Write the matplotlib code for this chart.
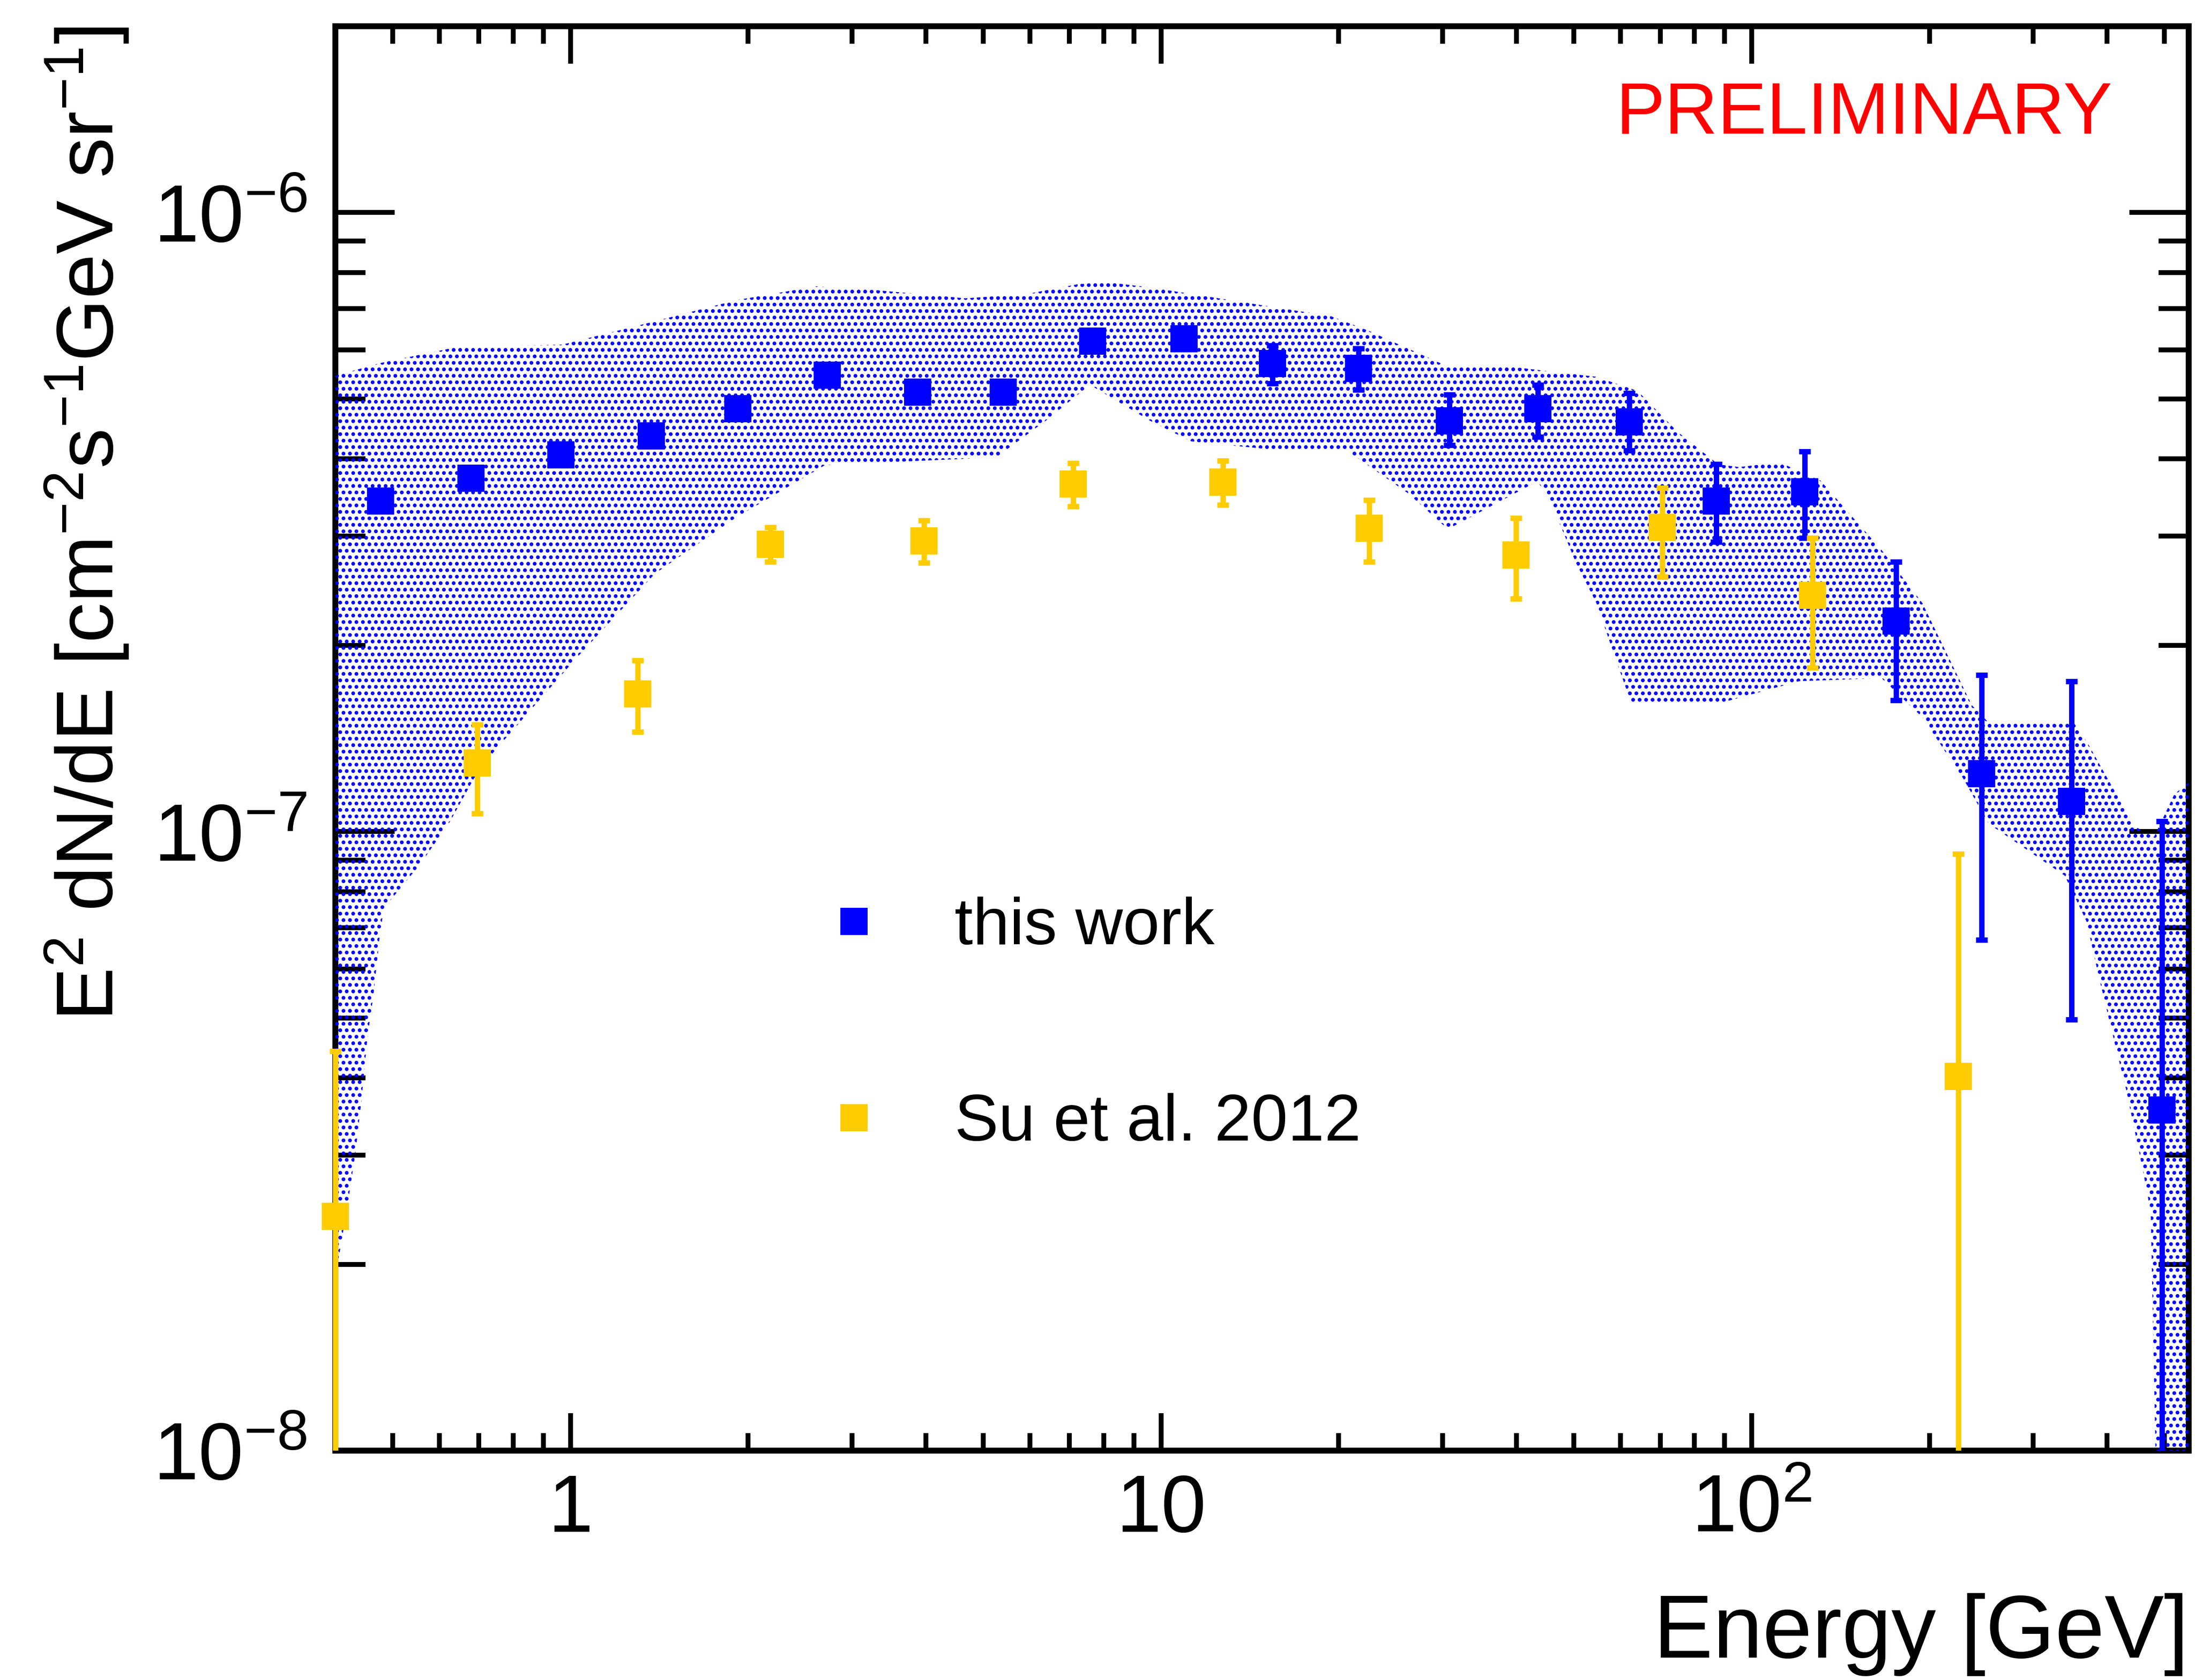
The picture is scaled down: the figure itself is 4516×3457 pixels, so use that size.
import matplotlib
matplotlib.use('Agg')
import matplotlib.pyplot as plt
import matplotlib.patches as mpatches
from matplotlib.lines import Line2D
from matplotlib.ticker import LogLocator, FuncFormatter, NullFormatter
import numpy as np

plt.rcParams['font.family'] = ['Liberation Sans', 'DejaVu Sans']
plt.rcParams['mathtext.fontset'] = 'custom'
plt.rcParams['mathtext.rm'] = 'Liberation Sans'
plt.rcParams['mathtext.it'] = 'Liberation Sans:italic'
plt.rcParams['hatch.linewidth'] = 4.5

DPI = 80

# this work: E^2 dN/dE with lower / upper ends of the error bars
energy = [0.477, 0.679, 0.964, 1.37, 1.92, 2.72, 3.87, 5.41, 7.66, 10.93, 15.45,
          21.6, 30.8, 43.5, 62.1, 87.2, 123.0, 175.5, 245.0, 348.0, 495.0]
flux = [3.42e-7, 3.72e-7, 4.06e-7, 4.36e-7, 4.82e-7, 5.46e-7, 5.13e-7, 5.13e-7,
        6.20e-7, 6.26e-7, 5.70e-7, 5.60e-7, 4.61e-7, 4.82e-7, 4.59e-7, 3.42e-7,
        3.54e-7, 2.19e-7, 1.24e-7, 1.12e-7, 3.55e-8]
flux_lo = [3.34e-7, 3.63e-7, 3.96e-7, 4.24e-7, 4.69e-7, 5.31e-7, 4.98e-7, 4.97e-7,
           6.02e-7, 6.06e-7, 5.30e-7, 5.17e-7, 4.21e-7, 4.34e-7, 4.13e-7, 2.94e-7,
           2.98e-7, 1.63e-7, 6.68e-8, 4.97e-8, 5e-9]
flux_hi = [3.50e-7, 3.81e-7, 4.16e-7, 4.48e-7, 4.95e-7, 5.61e-7, 5.28e-7, 5.29e-7,
           6.38e-7, 6.46e-7, 6.10e-7, 6.03e-7, 5.08e-7, 5.27e-7, 5.11e-7, 3.92e-7,
           4.11e-7, 2.73e-7, 1.79e-7, 1.75e-7, 1.04e-7]

# Su et al. 2012
su_energy = [0.4, 0.696, 1.30, 2.18, 3.97, 7.10, 12.74, 22.5, 39.9, 70.6, 126.7, 224.0]
su_flux = [2.39e-8, 1.29e-7, 1.67e-7, 2.91e-7, 2.95e-7, 3.64e-7, 3.67e-7, 3.09e-7,
           2.80e-7, 3.10e-7, 2.41e-7, 4.02e-8]
su_lo = [5e-9, 1.07e-7, 1.45e-7, 2.73e-7, 2.72e-7, 3.35e-7, 3.37e-7, 2.73e-7,
         2.38e-7, 2.58e-7, 1.84e-7, 5e-9]
su_hi = [4.42e-8, 1.49e-7, 1.89e-7, 3.10e-7, 3.18e-7, 3.94e-7, 3.97e-7, 3.43e-7,
         3.21e-7, 3.59e-7, 2.98e-7, 9.2e-8]

# systematic uncertainty band (upper and lower edges)
band_up_e = [0.40, 0.479, 0.646, 0.97, 1.37, 1.91, 2.61, 3.31, 4.66, 5.90, 7.23, 8.08,
             9.58, 13.1, 19.4, 22.4, 30.6, 38.9, 47.6, 54.6, 64.1, 75.0, 87.8, 95.2,
             111.5, 130.8, 166.0, 194.6, 236.0, 252.0, 351.0, 369.0, 445.0, 480.0,
             520.0, 550.0]
band_up = [5.45e-7, 5.72e-7, 6.07e-7, 6.12e-7, 6.65e-7, 7.22e-7, 7.60e-7, 7.49e-7,
           7.27e-7, 7.38e-7, 7.66e-7, 7.72e-7, 7.57e-7, 7.22e-7, 6.80e-7, 6.45e-7,
           5.64e-7, 5.64e-7, 5.51e-7, 5.43e-7, 5.15e-7, 4.42e-7, 3.92e-7, 3.88e-7,
           3.95e-7, 3.69e-7, 2.85e-7, 2.34e-7, 1.60e-7, 1.50e-7, 1.50e-7, 1.40e-7,
           1.02e-7, 9.8e-8, 1.15e-7, 1.20e-7]
band_lo_e = [0.40, 0.406, 0.42, 0.433, 0.443, 0.453, 0.464, 0.475, 0.483, 0.556, 0.626,
             0.687, 0.744, 1.02, 1.39, 1.91, 2.70, 4.6, 5.27, 6.38, 7.58, 9.58, 11.25,
             15.1, 20.7, 26.2, 30.6, 43.4, 45.4, 50.4, 54.6, 59.2, 62.6, 87.8, 120.4,
             166.0, 194.6, 228.0, 252.0, 339.0, 369.0, 386.0, 410.0, 431.0, 459.0,
             474.0, 490.0, 550.0]
band_lo = [1.9e-8, 2.07e-8, 2.51e-8, 3.05e-8, 3.70e-8, 4.63e-8, 5.45e-8, 6.72e-8,
           7.52e-8, 8.84e-8, 1.04e-7, 1.22e-7, 1.35e-7, 1.90e-7, 2.61e-7, 3.22e-7,
           3.91e-7, 4.0e-7, 4.03e-7, 4.61e-7, 5.27e-7, 4.61e-7, 4.27e-7, 4.15e-7,
           4.12e-7, 3.52e-7, 3.08e-7, 3.68e-7, 3.46e-7, 2.72e-7, 2.34e-7, 1.87e-7,
           1.61e-7, 1.61e-7, 1.75e-7, 1.77e-7, 1.53e-7, 1.22e-7, 1.03e-7, 8.49e-8,
           7.16e-8, 5.90e-8, 4.64e-8, 3.82e-8, 2.86e-8, 2.43e-8, 5e-9, 5e-9]

BLUE = '#0000ff'
GOLD = '#ffcc00'

fig = plt.figure(figsize=(4516 / DPI, 3457 / DPI), dpi=DPI)
ax = fig.add_axes([0.1528, 0.1365, 0.8444, 0.8479])
ax.set_xscale('log')
ax.set_yscale('log')
ax.set_xlim(0.4, 550)
ax.set_ylim(1e-8, 2e-6)
ax.set_axisbelow(True)
for sp in ax.spines.values():
    sp.set_linewidth(11)
    sp.set_zorder(0.5)

# data may spill a little past the left edge, like the markers sitting on the frame
clip_rect = mpatches.Rectangle((-0.012, 0), 1.024, 1, transform=ax.transAxes,
                               facecolor='none', edgecolor='none')
ax.add_patch(clip_rect)
clip_rect.set_visible(False)

# dotted band
band_x = np.concatenate([band_up_e, band_lo_e[::-1]])
band_y = np.concatenate([band_up, band_lo[::-1]])
ax.fill(band_x, band_y, facecolor='none', edgecolor=BLUE, hatch='.',
        linewidth=0, zorder=1)


def draw_points(x, y, lo, hi, color, z):
    x = np.array(x)
    y = np.array(y)
    yerr = [y - np.array(lo), np.array(hi) - y]
    eb = ax.errorbar(x, y, yerr=yerr, fmt='none', ecolor=color, elinewidth=10,
                     capsize=11, capthick=10, zorder=z)
    for art in eb.lines[1] + eb.lines[2]:
        art.set_clip_path(clip_rect)
    pts, = ax.plot(x, y, ls='none', marker='s', ms=50, mew=0, color=color,
                   zorder=z + 0.5)
    pts.set_clip_path(clip_rect)


draw_points(energy, flux, flux_lo, flux_hi, BLUE, 2)
draw_points(su_energy, su_flux, su_lo, su_hi, GOLD, 3)

# ticks on all sides, pointing in
ax.tick_params(which='both', direction='in', top=True, right=True, width=9,
               colors='black')
ax.tick_params(axis='x', which='major', length=69, labelsize=150, pad=150)
ax.tick_params(axis='x', which='minor', length=32)
ax.tick_params(axis='y', which='major', length=110, labelsize=150, pad=52)
ax.tick_params(axis='y', which='minor', length=56)

ax.xaxis.set_major_locator(LogLocator(base=10))
ax.xaxis.set_minor_locator(LogLocator(base=10, subs=np.arange(2, 10), numticks=20))
ax.yaxis.set_minor_locator(LogLocator(base=10, subs=np.arange(2, 10), numticks=20))
ax.xaxis.set_minor_formatter(NullFormatter())
ax.yaxis.set_minor_formatter(NullFormatter())


def xfmt(v, pos):
    n = int(round(np.log10(v)))
    if n == 0:
        return '1'
    if n == 1:
        return '10'
    return r'$\mathregular{10^{%d}}$' % n


ax.xaxis.set_major_formatter(FuncFormatter(xfmt))
ax.yaxis.set_major_formatter(
    FuncFormatter(lambda v, pos: r'$\mathregular{10^{%d}}$' % int(round(np.log10(v)))))
ax.set_xticks([1, 10, 100])

ax.set_xlabel('Energy [GeV]', loc='right', fontsize=165)
ax.xaxis.set_label_coords(1.0, -0.100)
ax.set_ylabel(r'E$^{2}$ dN/dE [cm$^{-2}$s$^{-1}$GeV sr$^{-1}$]', loc='top', fontsize=149)
ax.yaxis.set_label_coords(-0.110, 1.0)

handles = [Line2D([], [], ls='none', marker='s', ms=50, mew=0, color=BLUE),
           Line2D([], [], ls='none', marker='s', ms=50, mew=0, color=GOLD)]
ax.legend(handles, ['this work', 'Su et al. 2012'], loc='center left',
          bbox_to_anchor=(0.3740, 0.3896), bbox_transform=fig.transFigure,
          frameon=False, fontsize=122, handlelength=1.0, handletextpad=1.03,
          labelspacing=2.05, borderpad=0, borderaxespad=0)

fig.text(0.9625, 0.9202, 'PRELIMINARY', color='red', ha='right', va='baseline',
         fontsize=136)

# keep the x tick numbers on a common baseline (10^2 has a superscript)
fig.canvas.draw()
for lbl in ax.get_xticklabels():
    lbl.set_verticalalignment('baseline')

fig.savefig('out.png', dpi=DPI)
